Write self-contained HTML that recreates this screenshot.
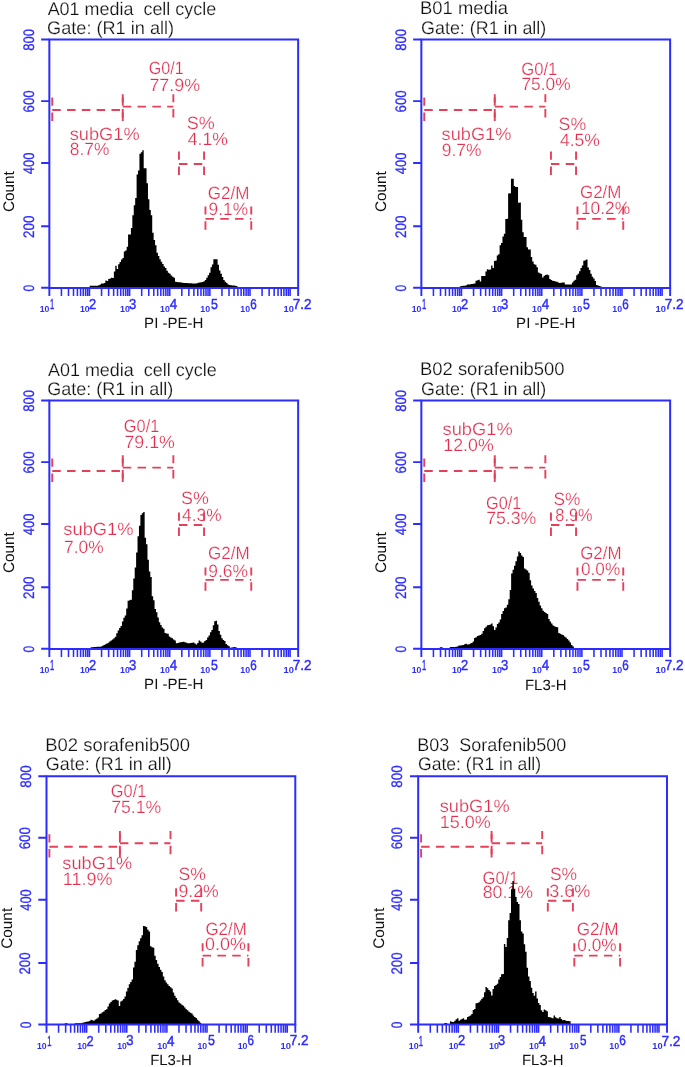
<!DOCTYPE html>
<html><head><meta charset="utf-8"><style>
html,body{margin:0;padding:0;background:#fff;width:685px;height:1067px;overflow:hidden}
svg{display:block;text-rendering:geometricPrecision;will-change:transform}
text{font-family:"Liberation Sans",sans-serif;white-space:pre}
.tt{fill:#111;stroke:#fff;stroke-width:0.2px}
.rd{fill:#e2304f;stroke:#fff;stroke-width:0.25px}
.yl{fill:#2c2cff;text-anchor:middle;dominant-baseline:central;stroke:#2c2cff;stroke-width:0.3px}
.cnt{fill:#111;text-anchor:middle}
.xs{font-weight:bold;fill:#2c2cff}
.xb{fill:#2c2cff;stroke:#2c2cff;stroke-width:0.45px}
.xt{fill:#111}
</style></head><body>
<svg width="685" height="1067" viewBox="0 0 685 1067">
<text id="t0_1" x="47.65" y="14.95" class="tt" style="font-size:18.2px" textLength="168.58" lengthAdjust="spacingAndGlyphs">A01 media  cell cycle</text>
<text id="t0_2" x="47.11" y="34.32" class="tt" style="font-size:18.2px" textLength="126.96" lengthAdjust="spacingAndGlyphs">Gate: (R1 in all)</text>
<text id="r0_0" x="148.8" y="74.29" class="rd" style="font-size:17.8px" textLength="34.87" lengthAdjust="spacingAndGlyphs">G0/1</text>
<text id="r0_1" x="149.4" y="91.23" class="rd" style="font-size:17.8px" textLength="50.8" lengthAdjust="spacingAndGlyphs">77.9%</text>
<text id="r0_2" x="69.68" y="139.72" class="rd" style="font-size:17.8px" textLength="69.94" lengthAdjust="spacingAndGlyphs">subG1%</text>
<text id="r0_3" x="69.82" y="154.98" class="rd" style="font-size:17.8px" textLength="39.51" lengthAdjust="spacingAndGlyphs">8.7%</text>
<text id="r0_4" x="186.71" y="128.86" class="rd" style="font-size:17.8px" textLength="28.06" lengthAdjust="spacingAndGlyphs">S%</text>
<text id="r0_5" x="187.8" y="145.36" class="rd" style="font-size:17.8px" textLength="40.05" lengthAdjust="spacingAndGlyphs">4.1%</text>
<text id="r0_6" x="207.82" y="198.93" class="rd" style="font-size:17.8px" textLength="41.66" lengthAdjust="spacingAndGlyphs">G2/M</text>
<text id="r0_7" x="208.61" y="215.1" class="rd" style="font-size:17.8px" textLength="39.4" lengthAdjust="spacingAndGlyphs">9.1%</text>
<text id="y0_0" transform="translate(29.43 288.25) rotate(-90)" class="yl" style="font-size:15.2px" textLength="6.73" lengthAdjust="spacingAndGlyphs">0</text>
<text id="y0_1" transform="translate(29.32 226.81) rotate(-90)" class="yl" style="font-size:15.2px" textLength="22.3" lengthAdjust="spacingAndGlyphs">200</text>
<text id="y0_2" transform="translate(29.31 163.43) rotate(-90)" class="yl" style="font-size:15.2px" textLength="21.65" lengthAdjust="spacingAndGlyphs">400</text>
<text id="y0_3" transform="translate(29.24 101.38) rotate(-90)" class="yl" style="font-size:15.2px" textLength="22.1" lengthAdjust="spacingAndGlyphs">600</text>
<text id="y0_4" transform="translate(29.26 39.79) rotate(-90)" class="yl" style="font-size:15.2px" textLength="21.77" lengthAdjust="spacingAndGlyphs">800</text>
<text id="c0" transform="translate(14.43 191.65) rotate(-90)" class="cnt" style="font-size:15.4px" textLength="40.92" lengthAdjust="spacingAndGlyphs">Count</text>
<text id="xs0_1" x="39.78" y="312.36" class="xs" style="font-size:8.7px" textLength="9.63" lengthAdjust="spacingAndGlyphs">10</text>
<text id="xb0_1" x="49.93" y="308.85" class="xb" style="font-size:14.5px" textLength="4.25" lengthAdjust="spacingAndGlyphs">1</text>
<text id="xs0_2" x="79.95" y="312.32" class="xs" style="font-size:8.7px" textLength="9.63" lengthAdjust="spacingAndGlyphs">10</text>
<text id="xb0_2" x="89.11" y="308.78" class="xb" style="font-size:14.5px" textLength="7.19" lengthAdjust="spacingAndGlyphs">2</text>
<text id="xs0_3" x="120.06" y="312.4" class="xs" style="font-size:8.7px" textLength="9.82" lengthAdjust="spacingAndGlyphs">10</text>
<text id="xb0_3" x="128.98" y="308.99" class="xb" style="font-size:14.5px" textLength="7.27" lengthAdjust="spacingAndGlyphs">3</text>
<text id="xs0_4" x="160.08" y="312.37" class="xs" style="font-size:8.7px" textLength="9.73" lengthAdjust="spacingAndGlyphs">10</text>
<text id="xb0_4" x="169.76" y="308.58" class="xb" style="font-size:14.5px" textLength="7.48" lengthAdjust="spacingAndGlyphs">4</text>
<text id="xs0_5" x="200.33" y="312.27" class="xs" style="font-size:8.7px" textLength="9.86" lengthAdjust="spacingAndGlyphs">10</text>
<text id="xb0_5" x="210.92" y="309.08" class="xb" style="font-size:14.5px" textLength="6.84" lengthAdjust="spacingAndGlyphs">5</text>
<text id="xs0_6" x="240.27" y="312.07" class="xs" style="font-size:8.7px" textLength="9.76" lengthAdjust="spacingAndGlyphs">10</text>
<text id="xb0_6" x="250.24" y="308.99" class="xb" style="font-size:14.5px" textLength="6.48" lengthAdjust="spacingAndGlyphs">6</text>
<text id="xs0_7" x="283.56" y="312.32" class="xs" style="font-size:8.7px" textLength="10.37" lengthAdjust="spacingAndGlyphs">10</text>
<text id="xb0_7" x="292.64" y="309.07" class="xb" style="font-size:14.5px" textLength="18.83" lengthAdjust="spacingAndGlyphs">7.2</text>
<text id="xt0" x="173.81" y="328.47" class="xt" style="font-size:14.85px" text-anchor="middle" textLength="59.41" lengthAdjust="spacingAndGlyphs">PI -PE-H</text>
<text id="t1_1" x="420.09" y="14.46" class="tt" style="font-size:18.2px" textLength="87.97" lengthAdjust="spacingAndGlyphs">B01 media</text>
<text id="t1_2" x="421.08" y="34.3" class="tt" style="font-size:18.2px" textLength="125.19" lengthAdjust="spacingAndGlyphs">Gate: (R1 in all)</text>
<text id="r1_0" x="521.22" y="74.64" class="rd" style="font-size:17.8px" textLength="36.18" lengthAdjust="spacingAndGlyphs">G0/1</text>
<text id="r1_1" x="521.46" y="90.08" class="rd" style="font-size:17.8px" textLength="49.25" lengthAdjust="spacingAndGlyphs">75.0%</text>
<text id="r1_2" x="441.63" y="140.14" class="rd" style="font-size:17.8px" textLength="69.76" lengthAdjust="spacingAndGlyphs">subG1%</text>
<text id="r1_3" x="441.78" y="156.02" class="rd" style="font-size:17.8px" textLength="39.72" lengthAdjust="spacingAndGlyphs">9.7%</text>
<text id="r1_4" x="558.6" y="129.76" class="rd" style="font-size:17.8px" textLength="27.55" lengthAdjust="spacingAndGlyphs">S%</text>
<text id="r1_5" x="559.97" y="145.95" class="rd" style="font-size:17.8px" textLength="39.98" lengthAdjust="spacingAndGlyphs">4.5%</text>
<text id="r1_6" x="580" y="197.8" class="rd" style="font-size:17.8px" textLength="41.44" lengthAdjust="spacingAndGlyphs">G2/M</text>
<text id="r1_7" x="580.89" y="214.43" class="rd" style="font-size:17.8px" textLength="49.3" lengthAdjust="spacingAndGlyphs">10.2%</text>
<text id="y1_0" transform="translate(401.43 288.25) rotate(-90)" class="yl" style="font-size:15.2px" textLength="6.73" lengthAdjust="spacingAndGlyphs">0</text>
<text id="y1_1" transform="translate(401.32 226.81) rotate(-90)" class="yl" style="font-size:15.2px" textLength="22.3" lengthAdjust="spacingAndGlyphs">200</text>
<text id="y1_2" transform="translate(401.31 163.43) rotate(-90)" class="yl" style="font-size:15.2px" textLength="21.65" lengthAdjust="spacingAndGlyphs">400</text>
<text id="y1_3" transform="translate(401.24 101.38) rotate(-90)" class="yl" style="font-size:15.2px" textLength="22.1" lengthAdjust="spacingAndGlyphs">600</text>
<text id="y1_4" transform="translate(401.26 39.79) rotate(-90)" class="yl" style="font-size:15.2px" textLength="21.77" lengthAdjust="spacingAndGlyphs">800</text>
<text id="c1" transform="translate(386.43 191.65) rotate(-90)" class="cnt" style="font-size:15.4px" textLength="40.92" lengthAdjust="spacingAndGlyphs">Count</text>
<text id="xs1_1" x="411.78" y="312.36" class="xs" style="font-size:8.7px" textLength="9.63" lengthAdjust="spacingAndGlyphs">10</text>
<text id="xb1_1" x="421.93" y="308.85" class="xb" style="font-size:14.5px" textLength="4.25" lengthAdjust="spacingAndGlyphs">1</text>
<text id="xs1_2" x="451.95" y="312.32" class="xs" style="font-size:8.7px" textLength="9.63" lengthAdjust="spacingAndGlyphs">10</text>
<text id="xb1_2" x="461.11" y="308.78" class="xb" style="font-size:14.5px" textLength="7.19" lengthAdjust="spacingAndGlyphs">2</text>
<text id="xs1_3" x="492.06" y="312.4" class="xs" style="font-size:8.7px" textLength="9.82" lengthAdjust="spacingAndGlyphs">10</text>
<text id="xb1_3" x="500.98" y="308.99" class="xb" style="font-size:14.5px" textLength="7.27" lengthAdjust="spacingAndGlyphs">3</text>
<text id="xs1_4" x="532.08" y="312.37" class="xs" style="font-size:8.7px" textLength="9.73" lengthAdjust="spacingAndGlyphs">10</text>
<text id="xb1_4" x="541.76" y="308.58" class="xb" style="font-size:14.5px" textLength="7.48" lengthAdjust="spacingAndGlyphs">4</text>
<text id="xs1_5" x="572.33" y="312.27" class="xs" style="font-size:8.7px" textLength="9.86" lengthAdjust="spacingAndGlyphs">10</text>
<text id="xb1_5" x="582.92" y="309.08" class="xb" style="font-size:14.5px" textLength="6.84" lengthAdjust="spacingAndGlyphs">5</text>
<text id="xs1_6" x="612.27" y="312.07" class="xs" style="font-size:8.7px" textLength="9.76" lengthAdjust="spacingAndGlyphs">10</text>
<text id="xb1_6" x="622.24" y="308.99" class="xb" style="font-size:14.5px" textLength="6.48" lengthAdjust="spacingAndGlyphs">6</text>
<text id="xs1_7" x="655.56" y="312.32" class="xs" style="font-size:8.7px" textLength="10.37" lengthAdjust="spacingAndGlyphs">10</text>
<text id="xb1_7" x="664.64" y="309.07" class="xb" style="font-size:14.5px" textLength="18.83" lengthAdjust="spacingAndGlyphs">7.2</text>
<text id="xt1" x="545.81" y="328.47" class="xt" style="font-size:14.85px" text-anchor="middle" textLength="59.41" lengthAdjust="spacingAndGlyphs">PI -PE-H</text>
<text id="t2_1" x="47.95" y="375.83" class="tt" style="font-size:18.2px" textLength="168.73" lengthAdjust="spacingAndGlyphs">A01 media  cell cycle</text>
<text id="t2_2" x="47.32" y="395.08" class="tt" style="font-size:18.2px" textLength="126.03" lengthAdjust="spacingAndGlyphs">Gate: (R1 in all)</text>
<text id="r2_0" x="123.87" y="431.79" class="rd" style="font-size:17.8px" textLength="35.4" lengthAdjust="spacingAndGlyphs">G0/1</text>
<text id="r2_1" x="124.48" y="447.89" class="rd" style="font-size:17.8px" textLength="50.48" lengthAdjust="spacingAndGlyphs">79.1%</text>
<text id="r2_2" x="63.34" y="535.35" class="rd" style="font-size:17.8px" textLength="70.19" lengthAdjust="spacingAndGlyphs">subG1%</text>
<text id="r2_3" x="64.02" y="552.65" class="rd" style="font-size:17.8px" textLength="39.57" lengthAdjust="spacingAndGlyphs">7.0%</text>
<text id="r2_4" x="181.06" y="503.82" class="rd" style="font-size:17.8px" textLength="27.78" lengthAdjust="spacingAndGlyphs">S%</text>
<text id="r2_5" x="182.09" y="520.85" class="rd" style="font-size:17.8px" textLength="39.49" lengthAdjust="spacingAndGlyphs">4.3%</text>
<text id="r2_6" x="207.98" y="559.02" class="rd" style="font-size:17.8px" textLength="41.64" lengthAdjust="spacingAndGlyphs">G2/M</text>
<text id="r2_7" x="208.32" y="576.57" class="rd" style="font-size:17.8px" textLength="39.75" lengthAdjust="spacingAndGlyphs">9.6%</text>
<text id="y2_0" transform="translate(29.43 649.25) rotate(-90)" class="yl" style="font-size:15.2px" textLength="6.73" lengthAdjust="spacingAndGlyphs">0</text>
<text id="y2_1" transform="translate(29.32 587.81) rotate(-90)" class="yl" style="font-size:15.2px" textLength="22.3" lengthAdjust="spacingAndGlyphs">200</text>
<text id="y2_2" transform="translate(29.31 524.43) rotate(-90)" class="yl" style="font-size:15.2px" textLength="21.65" lengthAdjust="spacingAndGlyphs">400</text>
<text id="y2_3" transform="translate(29.24 462.38) rotate(-90)" class="yl" style="font-size:15.2px" textLength="22.1" lengthAdjust="spacingAndGlyphs">600</text>
<text id="y2_4" transform="translate(29.26 400.79) rotate(-90)" class="yl" style="font-size:15.2px" textLength="21.77" lengthAdjust="spacingAndGlyphs">800</text>
<text id="c2" transform="translate(14.43 552.65) rotate(-90)" class="cnt" style="font-size:15.4px" textLength="40.92" lengthAdjust="spacingAndGlyphs">Count</text>
<text id="xs2_1" x="39.78" y="673.36" class="xs" style="font-size:8.7px" textLength="9.63" lengthAdjust="spacingAndGlyphs">10</text>
<text id="xb2_1" x="49.93" y="669.85" class="xb" style="font-size:14.5px" textLength="4.25" lengthAdjust="spacingAndGlyphs">1</text>
<text id="xs2_2" x="79.95" y="673.32" class="xs" style="font-size:8.7px" textLength="9.63" lengthAdjust="spacingAndGlyphs">10</text>
<text id="xb2_2" x="89.11" y="669.78" class="xb" style="font-size:14.5px" textLength="7.19" lengthAdjust="spacingAndGlyphs">2</text>
<text id="xs2_3" x="120.06" y="673.4" class="xs" style="font-size:8.7px" textLength="9.82" lengthAdjust="spacingAndGlyphs">10</text>
<text id="xb2_3" x="128.98" y="669.99" class="xb" style="font-size:14.5px" textLength="7.27" lengthAdjust="spacingAndGlyphs">3</text>
<text id="xs2_4" x="160.08" y="673.37" class="xs" style="font-size:8.7px" textLength="9.73" lengthAdjust="spacingAndGlyphs">10</text>
<text id="xb2_4" x="169.76" y="669.58" class="xb" style="font-size:14.5px" textLength="7.48" lengthAdjust="spacingAndGlyphs">4</text>
<text id="xs2_5" x="200.33" y="673.27" class="xs" style="font-size:8.7px" textLength="9.86" lengthAdjust="spacingAndGlyphs">10</text>
<text id="xb2_5" x="210.92" y="670.08" class="xb" style="font-size:14.5px" textLength="6.84" lengthAdjust="spacingAndGlyphs">5</text>
<text id="xs2_6" x="240.27" y="673.07" class="xs" style="font-size:8.7px" textLength="9.76" lengthAdjust="spacingAndGlyphs">10</text>
<text id="xb2_6" x="250.24" y="669.99" class="xb" style="font-size:14.5px" textLength="6.48" lengthAdjust="spacingAndGlyphs">6</text>
<text id="xs2_7" x="283.56" y="673.32" class="xs" style="font-size:8.7px" textLength="10.37" lengthAdjust="spacingAndGlyphs">10</text>
<text id="xb2_7" x="292.64" y="670.07" class="xb" style="font-size:14.5px" textLength="18.83" lengthAdjust="spacingAndGlyphs">7.2</text>
<text id="xt2" x="173.81" y="689.47" class="xt" style="font-size:14.85px" text-anchor="middle" textLength="59.41" lengthAdjust="spacingAndGlyphs">PI -PE-H</text>
<text id="t3_1" x="419.95" y="375.4" class="tt" style="font-size:18.2px" textLength="144.65" lengthAdjust="spacingAndGlyphs">B02 sorafenib500</text>
<text id="t3_2" x="421.08" y="395.3" class="tt" style="font-size:18.2px" textLength="125.19" lengthAdjust="spacingAndGlyphs">Gate: (R1 in all)</text>
<text id="r3_0" x="442.58" y="434.7" class="rd" style="font-size:17.8px" textLength="70.06" lengthAdjust="spacingAndGlyphs">subG1%</text>
<text id="r3_1" x="443.3" y="451.26" class="rd" style="font-size:17.8px" textLength="50.38" lengthAdjust="spacingAndGlyphs">12.0%</text>
<text id="r3_2" x="486.04" y="508.5" class="rd" style="font-size:17.8px" textLength="35.28" lengthAdjust="spacingAndGlyphs">G0/1</text>
<text id="r3_3" x="486.14" y="524.11" class="rd" style="font-size:17.8px" textLength="50.24" lengthAdjust="spacingAndGlyphs">75.3%</text>
<text id="r3_4" x="553.44" y="505.03" class="rd" style="font-size:17.8px" textLength="26.92" lengthAdjust="spacingAndGlyphs">S%</text>
<text id="r3_5" x="555.31" y="520.59" class="rd" style="font-size:17.8px" textLength="37.27" lengthAdjust="spacingAndGlyphs">8.9%</text>
<text id="r3_6" x="580.19" y="559.49" class="rd" style="font-size:17.8px" textLength="41.31" lengthAdjust="spacingAndGlyphs">G2/M</text>
<text id="r3_7" x="580.97" y="575.32" class="rd" style="font-size:17.8px" textLength="39.24" lengthAdjust="spacingAndGlyphs">0.0%</text>
<text id="y3_0" transform="translate(401.43 649.25) rotate(-90)" class="yl" style="font-size:15.2px" textLength="6.73" lengthAdjust="spacingAndGlyphs">0</text>
<text id="y3_1" transform="translate(401.32 587.81) rotate(-90)" class="yl" style="font-size:15.2px" textLength="22.3" lengthAdjust="spacingAndGlyphs">200</text>
<text id="y3_2" transform="translate(401.31 524.43) rotate(-90)" class="yl" style="font-size:15.2px" textLength="21.65" lengthAdjust="spacingAndGlyphs">400</text>
<text id="y3_3" transform="translate(401.24 462.38) rotate(-90)" class="yl" style="font-size:15.2px" textLength="22.1" lengthAdjust="spacingAndGlyphs">600</text>
<text id="y3_4" transform="translate(401.26 400.79) rotate(-90)" class="yl" style="font-size:15.2px" textLength="21.77" lengthAdjust="spacingAndGlyphs">800</text>
<text id="c3" transform="translate(386.43 552.65) rotate(-90)" class="cnt" style="font-size:15.4px" textLength="40.92" lengthAdjust="spacingAndGlyphs">Count</text>
<text id="xs3_1" x="411.78" y="673.36" class="xs" style="font-size:8.7px" textLength="9.63" lengthAdjust="spacingAndGlyphs">10</text>
<text id="xb3_1" x="421.93" y="669.85" class="xb" style="font-size:14.5px" textLength="4.25" lengthAdjust="spacingAndGlyphs">1</text>
<text id="xs3_2" x="451.95" y="673.32" class="xs" style="font-size:8.7px" textLength="9.63" lengthAdjust="spacingAndGlyphs">10</text>
<text id="xb3_2" x="461.11" y="669.78" class="xb" style="font-size:14.5px" textLength="7.19" lengthAdjust="spacingAndGlyphs">2</text>
<text id="xs3_3" x="492.06" y="673.4" class="xs" style="font-size:8.7px" textLength="9.82" lengthAdjust="spacingAndGlyphs">10</text>
<text id="xb3_3" x="500.98" y="669.99" class="xb" style="font-size:14.5px" textLength="7.27" lengthAdjust="spacingAndGlyphs">3</text>
<text id="xs3_4" x="532.08" y="673.37" class="xs" style="font-size:8.7px" textLength="9.73" lengthAdjust="spacingAndGlyphs">10</text>
<text id="xb3_4" x="541.76" y="669.58" class="xb" style="font-size:14.5px" textLength="7.48" lengthAdjust="spacingAndGlyphs">4</text>
<text id="xs3_5" x="572.33" y="673.27" class="xs" style="font-size:8.7px" textLength="9.86" lengthAdjust="spacingAndGlyphs">10</text>
<text id="xb3_5" x="582.92" y="670.08" class="xb" style="font-size:14.5px" textLength="6.84" lengthAdjust="spacingAndGlyphs">5</text>
<text id="xs3_6" x="612.27" y="673.07" class="xs" style="font-size:8.7px" textLength="9.76" lengthAdjust="spacingAndGlyphs">10</text>
<text id="xb3_6" x="622.24" y="669.99" class="xb" style="font-size:14.5px" textLength="6.48" lengthAdjust="spacingAndGlyphs">6</text>
<text id="xs3_7" x="655.56" y="673.32" class="xs" style="font-size:8.7px" textLength="10.37" lengthAdjust="spacingAndGlyphs">10</text>
<text id="xb3_7" x="664.64" y="670.07" class="xb" style="font-size:14.5px" textLength="18.83" lengthAdjust="spacingAndGlyphs">7.2</text>
<text id="xt3" x="545.81" y="689.64" class="xt" style="font-size:14.85px" text-anchor="middle" textLength="41.7" lengthAdjust="spacingAndGlyphs">FL3-H</text>
<text id="t4_1" x="45.15" y="751.45" class="tt" style="font-size:18.2px" textLength="144.89" lengthAdjust="spacingAndGlyphs">B02 sorafenib500</text>
<text id="t4_2" x="45.87" y="770.24" class="tt" style="font-size:18.2px" textLength="125.92" lengthAdjust="spacingAndGlyphs">Gate: (R1 in all)</text>
<text id="r4_0" x="110.87" y="797.16" class="rd" style="font-size:17.8px" textLength="35.4" lengthAdjust="spacingAndGlyphs">G0/1</text>
<text id="r4_1" x="111.18" y="812.62" class="rd" style="font-size:17.8px" textLength="50.02" lengthAdjust="spacingAndGlyphs">75.1%</text>
<text id="r4_2" x="62.37" y="869.45" class="rd" style="font-size:17.8px" textLength="69.74" lengthAdjust="spacingAndGlyphs">subG1%</text>
<text id="r4_3" x="62.81" y="885.33" class="rd" style="font-size:17.8px" textLength="49.83" lengthAdjust="spacingAndGlyphs">11.9%</text>
<text id="r4_4" x="178.53" y="880.14" class="rd" style="font-size:17.8px" textLength="27.46" lengthAdjust="spacingAndGlyphs">S%</text>
<text id="r4_5" x="178.54" y="897.11" class="rd" style="font-size:17.8px" textLength="40.3" lengthAdjust="spacingAndGlyphs">9.2%</text>
<text id="r4_6" x="205.56" y="935.09" class="rd" style="font-size:17.8px" textLength="41.1" lengthAdjust="spacingAndGlyphs">G2/M</text>
<text id="r4_7" x="205.09" y="950.39" class="rd" style="font-size:17.8px" textLength="40.87" lengthAdjust="spacingAndGlyphs">0.0%</text>
<text id="y4_0" transform="translate(26.04 1024.96) rotate(-90)" class="yl" style="font-size:15.2px" textLength="6.66" lengthAdjust="spacingAndGlyphs">0</text>
<text id="y4_1" transform="translate(25.99 963.56) rotate(-90)" class="yl" style="font-size:15.2px" textLength="22.06" lengthAdjust="spacingAndGlyphs">200</text>
<text id="y4_2" transform="translate(26.03 900.01) rotate(-90)" class="yl" style="font-size:15.2px" textLength="21.43" lengthAdjust="spacingAndGlyphs">400</text>
<text id="y4_3" transform="translate(25.83 838.24) rotate(-90)" class="yl" style="font-size:15.2px" textLength="22.12" lengthAdjust="spacingAndGlyphs">600</text>
<text id="y4_4" transform="translate(26.79 776.54) rotate(-90)" class="yl" style="font-size:15.2px" textLength="22.22" lengthAdjust="spacingAndGlyphs">800</text>
<text id="c4" transform="translate(12.4 928.32) rotate(-90)" class="cnt" style="font-size:15.4px" textLength="40.92" lengthAdjust="spacingAndGlyphs">Count</text>
<text id="xs4_1" x="36.95" y="1049.37" class="xs" style="font-size:8.7px" textLength="9.68" lengthAdjust="spacingAndGlyphs">10</text>
<text id="xb4_1" x="47.23" y="1045.62" class="xb" style="font-size:14.5px" textLength="4.25" lengthAdjust="spacingAndGlyphs">1</text>
<text id="xs4_2" x="77.16" y="1049.36" class="xs" style="font-size:8.7px" textLength="9.66" lengthAdjust="spacingAndGlyphs">10</text>
<text id="xb4_2" x="86.5" y="1046.13" class="xb" style="font-size:14.5px" textLength="7.13" lengthAdjust="spacingAndGlyphs">2</text>
<text id="xs4_3" x="117.29" y="1049.38" class="xs" style="font-size:8.7px" textLength="9.61" lengthAdjust="spacingAndGlyphs">10</text>
<text id="xb4_3" x="126.24" y="1045.32" class="xb" style="font-size:14.5px" textLength="7.28" lengthAdjust="spacingAndGlyphs">3</text>
<text id="xs4_4" x="157.3" y="1049.17" class="xs" style="font-size:8.7px" textLength="9.99" lengthAdjust="spacingAndGlyphs">10</text>
<text id="xb4_4" x="167.01" y="1045.78" class="xb" style="font-size:14.5px" textLength="7.48" lengthAdjust="spacingAndGlyphs">4</text>
<text id="xs4_5" x="197.52" y="1049.18" class="xs" style="font-size:8.7px" textLength="9.65" lengthAdjust="spacingAndGlyphs">10</text>
<text id="xb4_5" x="207.98" y="1045.45" class="xb" style="font-size:14.5px" textLength="6.91" lengthAdjust="spacingAndGlyphs">5</text>
<text id="xs4_6" x="237.65" y="1049.17" class="xs" style="font-size:8.7px" textLength="9.74" lengthAdjust="spacingAndGlyphs">10</text>
<text id="xb4_6" x="247.54" y="1045.39" class="xb" style="font-size:14.5px" textLength="6.48" lengthAdjust="spacingAndGlyphs">6</text>
<text id="xs4_7" x="280.46" y="1049.42" class="xs" style="font-size:8.7px" textLength="10.52" lengthAdjust="spacingAndGlyphs">10</text>
<text id="xb4_7" x="289.79" y="1045.41" class="xb" style="font-size:14.5px" textLength="18.92" lengthAdjust="spacingAndGlyphs">7.2</text>
<text id="xt4" x="170.95" y="1064.74" class="xt" style="font-size:14.85px" text-anchor="middle" textLength="41.52" lengthAdjust="spacingAndGlyphs">FL3-H</text>
<text id="t5_1" x="417.32" y="751.22" class="tt" style="font-size:18.2px" textLength="148.99" lengthAdjust="spacingAndGlyphs">B03  Sorafenib500</text>
<text id="t5_2" x="417.97" y="770.15" class="tt" style="font-size:18.2px" textLength="123.08" lengthAdjust="spacingAndGlyphs">Gate: (R1 in all)</text>
<text id="r5_0" x="439.69" y="811.8" class="rd" style="font-size:17.8px" textLength="69.95" lengthAdjust="spacingAndGlyphs">subG1%</text>
<text id="r5_1" x="439.68" y="827.81" class="rd" style="font-size:17.8px" textLength="51.13" lengthAdjust="spacingAndGlyphs">15.0%</text>
<text id="r5_2" x="482.5" y="883.5" class="rd" style="font-size:17.8px" textLength="35.91" lengthAdjust="spacingAndGlyphs">G0/1</text>
<text id="r5_3" x="482.65" y="897.66" class="rd" style="font-size:17.8px" textLength="50.34" lengthAdjust="spacingAndGlyphs">80.1%</text>
<text id="r5_4" x="549.99" y="880.11" class="rd" style="font-size:17.8px" textLength="27.13" lengthAdjust="spacingAndGlyphs">S%</text>
<text id="r5_5" x="549.15" y="897.24" class="rd" style="font-size:17.8px" textLength="41.17" lengthAdjust="spacingAndGlyphs">3.6%</text>
<text id="r5_6" x="576.64" y="934.97" class="rd" style="font-size:17.8px" textLength="41.86" lengthAdjust="spacingAndGlyphs">G2/M</text>
<text id="r5_7" x="577.3" y="951.28" class="rd" style="font-size:17.8px" textLength="39.35" lengthAdjust="spacingAndGlyphs">0.0%</text>
<text id="y5_0" transform="translate(397.84 1024.96) rotate(-90)" class="yl" style="font-size:15.2px" textLength="6.66" lengthAdjust="spacingAndGlyphs">0</text>
<text id="y5_1" transform="translate(397.79 963.56) rotate(-90)" class="yl" style="font-size:15.2px" textLength="22.06" lengthAdjust="spacingAndGlyphs">200</text>
<text id="y5_2" transform="translate(397.83 900.01) rotate(-90)" class="yl" style="font-size:15.2px" textLength="21.43" lengthAdjust="spacingAndGlyphs">400</text>
<text id="y5_3" transform="translate(397.63 838.24) rotate(-90)" class="yl" style="font-size:15.2px" textLength="22.12" lengthAdjust="spacingAndGlyphs">600</text>
<text id="y5_4" transform="translate(397.59 776.54) rotate(-90)" class="yl" style="font-size:15.2px" textLength="22.22" lengthAdjust="spacingAndGlyphs">800</text>
<text id="c5" transform="translate(383.5 928.32) rotate(-90)" class="cnt" style="font-size:15.4px" textLength="40.92" lengthAdjust="spacingAndGlyphs">Count</text>
<text id="xs5_1" x="408.73" y="1049.32" class="xs" style="font-size:8.7px" textLength="9.9" lengthAdjust="spacingAndGlyphs">10</text>
<text id="xb5_1" x="418.69" y="1046.18" class="xb" style="font-size:14.5px" textLength="4.24" lengthAdjust="spacingAndGlyphs">1</text>
<text id="xs5_2" x="448.78" y="1049.36" class="xs" style="font-size:8.7px" textLength="9.63" lengthAdjust="spacingAndGlyphs">10</text>
<text id="xb5_2" x="457.97" y="1045.35" class="xb" style="font-size:14.5px" textLength="7.2" lengthAdjust="spacingAndGlyphs">2</text>
<text id="xs5_3" x="488.91" y="1049.39" class="xs" style="font-size:8.7px" textLength="9.96" lengthAdjust="spacingAndGlyphs">10</text>
<text id="xb5_3" x="497.89" y="1045.43" class="xb" style="font-size:14.5px" textLength="7.12" lengthAdjust="spacingAndGlyphs">3</text>
<text id="xs5_4" x="529.1" y="1049.39" class="xs" style="font-size:8.7px" textLength="9.68" lengthAdjust="spacingAndGlyphs">10</text>
<text id="xb5_4" x="538.48" y="1045.89" class="xb" style="font-size:14.5px" textLength="7.57" lengthAdjust="spacingAndGlyphs">4</text>
<text id="xs5_5" x="569.13" y="1049.33" class="xs" style="font-size:8.7px" textLength="9.67" lengthAdjust="spacingAndGlyphs">10</text>
<text id="xb5_5" x="579.91" y="1045.45" class="xb" style="font-size:14.5px" textLength="6.54" lengthAdjust="spacingAndGlyphs">5</text>
<text id="xs5_6" x="609.36" y="1049.27" class="xs" style="font-size:8.7px" textLength="9.92" lengthAdjust="spacingAndGlyphs">10</text>
<text id="xb5_6" x="619.24" y="1045.32" class="xb" style="font-size:14.5px" textLength="6.59" lengthAdjust="spacingAndGlyphs">6</text>
<text id="xs5_7" x="652.37" y="1049.24" class="xs" style="font-size:8.7px" textLength="10.29" lengthAdjust="spacingAndGlyphs">10</text>
<text id="xb5_7" x="661.42" y="1045.5" class="xb" style="font-size:14.5px" textLength="19.07" lengthAdjust="spacingAndGlyphs">7.2</text>
<text id="xt5" x="542.74" y="1064.64" class="xt" style="font-size:14.85px" text-anchor="middle" textLength="41.46" lengthAdjust="spacingAndGlyphs">FL3-H</text>
<path class="g" d="M89.7 288.4L89.7 285.8L91.12 285.8L91.12 285.8L92.54 285.8L92.54 285.8L93.96 285.8L93.96 285.8L95.38 285.8L95.38 285.8L96.81 285.8L96.81 285.8L98.23 285.8L98.23 285.3L99.65 285.3L99.65 284.4L101.07 284.4L101.07 283.6L102.49 283.6L102.49 283.53L103.91 283.53L103.91 282.88L105.33 282.88L105.33 280.4L106.75 280.4L106.75 280.99L108.17 280.99L108.18 278.9L109.6 278.9L109.6 278.42L111.02 278.42L111.02 277.8L112.44 277.8L112.44 278.07L113.86 278.07L113.86 271.6L115.28 271.6L115.28 265.8L116.7 265.8L116.7 268.9L118.12 268.9L118.12 264.3L119.54 264.3L119.54 261.93L120.97 261.93L120.97 259.6L122.39 259.6L122.39 258.04L123.81 258.04L123.81 251.51L125.23 251.51L125.23 250.4L126.65 250.4L126.65 246.8L128.07 246.8L128.07 234.4L129.49 234.4L129.49 234.4L130.91 234.4L130.91 227.88L132.33 227.88L132.33 215.31L133.76 215.31L133.76 205.37L135.18 205.37L135.18 197.97L136.6 197.97L136.6 174.38L138.02 174.38L138.02 170.4L139.44 170.4L139.44 153.75L140.86 153.75L140.86 152.37L142.28 152.37L142.28 150.3L143.7 150.3L143.7 168.2L145.12 168.2L145.12 168.2L146.55 168.2L146.55 183.3L147.97 183.3L147.97 199.3L149.39 199.3L149.39 210L150.81 210L150.81 215.3L152.23 215.3L152.23 232.7L153.65 232.7L153.65 240L155.07 240L155.07 245.35L156.49 245.35L156.49 252.8L157.92 252.8L157.92 256.01L159.34 256.01L159.34 259.21L160.76 259.21L160.76 261.74L162.18 261.74L162.18 264.06L163.6 264.06L163.6 266.38L165.02 266.38L165.02 268L166.44 268L166.44 270.64L167.86 270.64L167.86 272.67L169.28 272.67L169.28 273.7L170.71 273.7L170.71 275.5L172.13 275.5L172.13 276.71L173.55 276.71L173.55 277.7L174.97 277.7L174.97 281.75L176.39 281.75L176.39 281.98L177.81 281.98L177.81 282.16L179.23 282.16L179.23 282.35L180.65 282.35L180.65 282.53L182.08 282.53L182.07 282.71L183.5 282.71L183.5 282.9L184.92 282.9L184.92 283L186.34 283L186.34 283.1L187.76 283.1L187.76 283.17L189.18 283.17L189.18 283.24L190.6 283.24L190.6 283.32L192.02 283.32L192.02 283.39L193.44 283.39L193.44 283.46L194.87 283.46L194.87 283.39L196.29 283.39L196.29 283.13L197.71 283.13L197.71 282.86L199.13 282.86L199.13 282.59L200.55 282.59L200.55 282.33L201.97 282.33L201.97 282L203.39 282L203.39 281.13L204.81 281.13L204.81 279.9L206.23 279.9L206.23 277.63L207.66 277.63L207.66 275.35L209.08 275.35L209.08 272.67L210.5 272.67L210.5 267.3L211.92 267.3L211.92 264.53L213.34 264.53L213.34 259.3L214.76 259.3L214.76 259.3L216.18 259.3L216.18 259.3L217.6 259.3L217.6 264.79L219.03 264.79L219.03 270.55L220.45 270.55L220.45 273.73L221.87 273.73L221.87 277.02L223.29 277.02L223.29 280.1L224.71 280.1L224.71 281.65L226.13 281.65L226.13 283.1L227.55 283.1L227.55 284.55L228.97 284.55L228.97 285.11L230.39 285.11L230.39 285.27L231.82 285.27L231.82 285.43L233.24 285.43L233.24 285.6L234.66 285.6L234.66 285.76L236.08 285.76L236.08 285.92L237.5 285.92L237.5 288.4Z" fill="#000"/>
<path class="g" d="M49.35 39.5H298.15V287.9H49.35Z" fill="none" stroke="#2c2cff" stroke-width="2"/>
<path class="g" d="M41.15 287.8H49.35M41.15 226.3H49.35M41.15 163H49.35M41.15 101.1H49.35M41.15 39.5H49.35M49.35 287.9V296.1M298.15 287.9V296.1" stroke="#2c2cff" stroke-width="1.9" fill="none"/>
<path class="g" d="M61.43 287.9V296.1M68.5 287.9V296.1M73.51 287.9V296.1M77.4 287.9V296.1M80.58 287.9V296.1M83.26 287.9V296.1M85.59 287.9V296.1M87.64 287.9V296.1M89.48 287.9V296.1M101.56 287.9V296.1M108.63 287.9V296.1M113.64 287.9V296.1M117.53 287.9V296.1M120.71 287.9V296.1M123.39 287.9V296.1M125.72 287.9V296.1M127.77 287.9V296.1M129.61 287.9V296.1M141.69 287.9V296.1M148.75 287.9V296.1M153.77 287.9V296.1M157.66 287.9V296.1M160.83 287.9V296.1M163.52 287.9V296.1M165.85 287.9V296.1M167.9 287.9V296.1M169.74 287.9V296.1M181.82 287.9V296.1M188.88 287.9V296.1M193.9 287.9V296.1M197.79 287.9V296.1M200.96 287.9V296.1M203.65 287.9V296.1M205.98 287.9V296.1M208.03 287.9V296.1M209.87 287.9V296.1M221.95 287.9V296.1M229.01 287.9V296.1M234.03 287.9V296.1M237.92 287.9V296.1M241.09 287.9V296.1M243.78 287.9V296.1M246.11 287.9V296.1M248.16 287.9V296.1M250 287.9V296.1M262.08 287.9V296.1M269.14 287.9V296.1M274.16 287.9V296.1M278.04 287.9V296.1M281.22 287.9V296.1M283.91 287.9V296.1M286.24 287.9V296.1M288.29 287.9V296.1M290.12 287.9V296.1" stroke="#2c2cff" stroke-width="1.55" fill="none"/>
<g class="g" stroke="#e4405a" stroke-width="1.9" fill="none"><path d="M52.25 110H122.75" stroke-dasharray="8.5 6.3"/><path d="M52.25 97.6V105.7M52.25 112.4V120.9"/><path d="M122.75 97.6V105.7M122.75 112.4V120.9"/><path d="M122.75 106.6H173.35" stroke-dasharray="8.5 6.3"/><path d="M122.75 94.2V102.3M122.75 109V117.5"/><path d="M173.35 94.2V102.3M173.35 109V117.5"/><path d="M178.95 164H204.05" stroke-dasharray="8.5 6.3"/><path d="M178.95 151.6V159.7M178.95 166.4V174.9"/><path d="M204.05 151.6V159.7M204.05 166.4V174.9"/><path d="M205.45 218.9H251.25" stroke-dasharray="8.5 6.3"/><path d="M205.45 206.5V214.6M205.45 221.3V229.8"/><path d="M251.25 206.5V214.6M251.25 221.3V229.8"/></g>
<path class="g" d="M459.9 288.4L459.9 286.21L461.32 286.21L461.32 286.04L462.74 286.04L462.74 285.87L464.15 285.87L464.15 285.7L465.57 285.7L465.57 285.24L466.99 285.24L466.99 284.6L468.41 284.6L468.41 284.46L469.83 284.46L469.83 284.25L471.24 284.25L471.24 284.03L472.66 284.03L472.66 283.81L474.08 283.81L474.08 283.45L475.5 283.45L475.5 280.8L476.92 280.8L476.92 280.19L478.33 280.19L478.33 279.7L479.75 279.7L479.75 281.56L481.17 281.56L481.17 275.9L482.59 275.9L482.59 276.1L484.01 276.1L484.01 276.07L485.42 276.07L485.42 271.5L486.84 271.5L486.84 269.3L488.26 269.3L488.26 269.83L489.68 269.83L489.68 269.57L491.1 269.57L491.1 265.5L492.51 265.5L492.51 267.9L493.93 267.9L493.93 261.04L495.35 261.04L495.35 260.46L496.77 260.46L496.77 255.6L498.19 255.6L498.19 254.26L499.6 254.26L499.6 245.2L501.02 245.2L501.02 243.02L502.44 243.02L502.44 236.4L503.86 236.4L503.86 233.69L505.28 233.69L505.28 218.9L506.69 218.9L506.69 218.68L508.11 218.68L508.11 193.6L509.53 193.6L509.53 193.13L510.95 193.13L510.95 178.8L512.37 178.8L512.37 178.8L513.78 178.8L513.78 186L515.2 186L515.2 187.1L516.62 187.1L516.62 187.1L518.04 187.1L518.04 202.82L519.46 202.82L519.46 202.4L520.87 202.4L520.87 219.86L522.29 219.86L522.29 232.36L523.71 232.36L523.71 237.1L525.13 237.1L525.13 237.1L526.55 237.1L526.55 247.24L527.96 247.24L527.96 249.6L529.38 249.6L529.38 249.6L530.8 249.6L530.8 257.02L532.22 257.02L532.22 261.6L533.64 261.6L533.64 264.33L535.05 264.33L535.05 264.7L536.47 264.7L536.47 267.3L537.89 267.3L537.89 272.6L539.31 272.6L539.31 273.2L540.73 273.2L540.73 273.9L542.14 273.9L542.14 277.55L543.56 277.55L543.56 275.8L544.98 275.8L544.98 275.05L546.4 275.05L546.4 274.5L547.82 274.5L547.82 275.2L549.23 275.2L549.23 279.1L550.65 279.1L550.65 280.11L552.07 280.11L552.07 280.66L553.49 280.66L553.49 281.05L554.91 281.05L554.91 281.43L556.32 281.43L556.32 281.8L557.74 281.8L557.74 282.5L559.16 282.5L559.16 283.07L560.58 283.07L560.58 282.82L562 282.82L562 282.56L563.41 282.56L563.41 282.4L564.83 282.4L564.83 284.4L566.25 284.4L566.25 284.4L567.67 284.4L567.67 284.4L569.09 284.4L569.09 284.4L570.5 284.4L570.5 284.4L571.92 284.4L571.92 282.53L573.34 282.53L573.34 280.83L574.76 280.83L574.76 279.8L576.18 279.8L576.18 275.2L577.59 275.2L577.59 273.71L579.01 273.71L579.01 271.27L580.43 271.27L580.43 268L581.85 268L581.85 265.56L583.27 265.56L583.27 260.7L584.68 260.7L584.68 260.18L586.1 260.18L586.1 259.4L587.52 259.4L587.52 267.55L588.94 267.55L588.94 269.9L590.36 269.9L590.36 273.63L591.77 273.63L591.77 276.85L593.19 276.85L593.19 278.5L594.61 278.5L594.61 281.1L596.03 281.1L596.03 285L597.45 285L597.45 285.59L598.86 285.59L598.86 286.1L600.28 286.1L600.28 286.4L601.7 286.4L601.7 288.4Z" fill="#000"/>
<path class="g" d="M421.35 39.5H670.15V287.9H421.35Z" fill="none" stroke="#2c2cff" stroke-width="2"/>
<path class="g" d="M413.15 287.8H421.35M413.15 226.3H421.35M413.15 163H421.35M413.15 101.1H421.35M413.15 39.5H421.35M421.35 287.9V296.1M670.15 287.9V296.1" stroke="#2c2cff" stroke-width="1.9" fill="none"/>
<path class="g" d="M433.43 287.9V296.1M440.5 287.9V296.1M445.51 287.9V296.1M449.4 287.9V296.1M452.58 287.9V296.1M455.26 287.9V296.1M457.59 287.9V296.1M459.64 287.9V296.1M461.48 287.9V296.1M473.56 287.9V296.1M480.63 287.9V296.1M485.64 287.9V296.1M489.53 287.9V296.1M492.71 287.9V296.1M495.39 287.9V296.1M497.72 287.9V296.1M499.77 287.9V296.1M501.61 287.9V296.1M513.69 287.9V296.1M520.75 287.9V296.1M525.77 287.9V296.1M529.66 287.9V296.1M532.83 287.9V296.1M535.52 287.9V296.1M537.85 287.9V296.1M539.9 287.9V296.1M541.74 287.9V296.1M553.82 287.9V296.1M560.88 287.9V296.1M565.9 287.9V296.1M569.79 287.9V296.1M572.96 287.9V296.1M575.65 287.9V296.1M577.98 287.9V296.1M580.03 287.9V296.1M581.87 287.9V296.1M593.95 287.9V296.1M601.01 287.9V296.1M606.03 287.9V296.1M609.92 287.9V296.1M613.09 287.9V296.1M615.78 287.9V296.1M618.11 287.9V296.1M620.16 287.9V296.1M622 287.9V296.1M634.08 287.9V296.1M641.14 287.9V296.1M646.16 287.9V296.1M650.04 287.9V296.1M653.22 287.9V296.1M655.91 287.9V296.1M658.24 287.9V296.1M660.29 287.9V296.1M662.12 287.9V296.1" stroke="#2c2cff" stroke-width="1.55" fill="none"/>
<g class="g" stroke="#e4405a" stroke-width="1.9" fill="none"><path d="M424.25 110H494.75" stroke-dasharray="8.5 6.3"/><path d="M424.25 97.6V105.7M424.25 112.4V120.9"/><path d="M494.75 97.6V105.7M494.75 112.4V120.9"/><path d="M494.75 106.6H545.35" stroke-dasharray="8.5 6.3"/><path d="M494.75 94.2V102.3M494.75 109V117.5"/><path d="M545.35 94.2V102.3M545.35 109V117.5"/><path d="M550.95 164H576.05" stroke-dasharray="8.5 6.3"/><path d="M550.95 151.6V159.7M550.95 166.4V174.9"/><path d="M576.05 151.6V159.7M576.05 166.4V174.9"/><path d="M577.45 218.9H623.25" stroke-dasharray="8.5 6.3"/><path d="M577.45 206.5V214.6M577.45 221.3V229.8"/><path d="M623.25 206.5V214.6M623.25 221.3V229.8"/></g>
<path class="g" d="M90.7 649.4L90.7 647.33L92.12 647.33L92.12 647.19L93.54 647.19L93.54 647.05L94.96 647.05L94.96 646.91L96.38 646.91L96.38 646.77L97.8 646.77L97.8 646.7L99.22 646.7L99.22 646.7L100.64 646.7L100.64 646.38L102.06 646.38L102.06 645.67L103.47 645.67L103.47 644.97L104.89 644.97L104.89 644.27L106.31 644.27L106.31 643.58L107.73 643.58L107.73 642.7L109.15 642.7L109.15 641.58L110.57 641.58L110.57 640.51L111.99 640.51L111.99 639.48L113.41 639.48L113.41 638.28L114.83 638.28L114.83 636.8L116.25 636.8L116.25 633.2L117.67 633.2L117.67 630.51L119.09 630.51L119.09 628.1L120.51 628.1L120.51 626.1L121.93 626.1L121.93 621.52L123.35 621.52L123.35 617.79L124.77 617.79L124.77 615.39L126.19 615.39L126.19 608.52L127.6 608.52L127.6 600.86L129.02 600.86L129.02 600.31L130.44 600.31L130.44 599.7L131.86 599.7L131.86 590.18L133.28 590.18L133.28 578.59L134.7 578.59L134.7 567.49L136.12 567.49L136.12 552.52L137.54 552.52L137.54 536.26L138.96 536.26L138.96 525.84L140.38 525.84L140.38 514.97L141.8 514.97L141.8 513.21L143.22 513.21L143.22 512.1L144.64 512.1L144.64 537.83L146.06 537.83L146.06 544.2L147.48 544.2L147.48 559.8L148.9 559.8L148.9 571.47L150.32 571.47L150.32 576.98L151.73 576.98L151.73 596.18L153.15 596.18L153.15 600.2L154.57 600.2L154.57 609L155.99 609L155.99 612.21L157.41 612.21L157.41 617.4L158.83 617.4L158.83 622.15L160.25 622.15L160.25 624.92L161.67 624.92L161.67 627.43L163.09 627.43L163.09 628.7L164.51 628.7L164.51 632.94L165.93 632.94L165.93 633.53L167.35 633.53L167.35 633.8L168.77 633.8L168.77 636.41L170.19 636.41L170.19 637.52L171.61 637.52L171.61 638.2L173.03 638.2L173.03 639.59L174.45 639.59L174.45 640.4L175.87 640.4L175.87 643.23L177.28 643.23L177.28 642.89L178.7 642.89L178.7 642.56L180.12 642.56L180.12 642.3L181.54 642.3L181.54 642.05L182.96 642.05L182.96 641.8L184.38 641.8L184.38 642.31L185.8 642.31L185.8 642.79L187.22 642.79L187.22 643.28L188.64 643.28L188.64 643.14L190.06 643.14L190.06 642.97L191.48 642.97L191.48 642.79L192.9 642.79L192.9 642.6L194.32 642.6L194.32 643.49L195.74 643.49L195.74 644.52L197.16 644.52L197.16 642.97L198.58 642.97L198.58 640.4L200 640.4L200 641.47L201.41 641.47L201.41 642.84L202.83 642.84L202.83 642.58L204.25 642.58L204.25 641.1L205.67 641.1L205.67 639.97L207.09 639.97L207.09 637.4L208.51 637.4L208.51 635.5L209.93 635.5L209.93 632.23L211.35 632.23L211.35 629.91L212.77 629.91L212.77 625.16L214.19 625.16L214.19 621.18L215.61 621.18L215.61 620.7L217.03 620.7L217.03 624.54L218.45 624.54L218.45 630.9L219.87 630.9L219.87 634.85L221.29 634.85L221.29 638.17L222.71 638.17L222.71 640.02L224.13 640.02L224.13 641.1L225.54 641.1L225.54 644L226.96 644L226.96 645.35L228.38 645.35L228.38 646.2L229.8 646.2L229.8 647.67L231.22 647.67L231.22 647.44L232.64 647.44L232.64 647.21L234.06 647.21L234.06 647L235.48 647L235.48 647.47L236.9 647.47L236.9 649.4Z" fill="#000"/>
<path class="g" d="M49.35 400.5H298.15V648.9H49.35Z" fill="none" stroke="#2c2cff" stroke-width="2"/>
<path class="g" d="M41.15 648.8H49.35M41.15 587.3H49.35M41.15 524H49.35M41.15 462.1H49.35M41.15 400.5H49.35M49.35 648.9V657.1M298.15 648.9V657.1" stroke="#2c2cff" stroke-width="1.9" fill="none"/>
<path class="g" d="M61.43 648.9V657.1M68.5 648.9V657.1M73.51 648.9V657.1M77.4 648.9V657.1M80.58 648.9V657.1M83.26 648.9V657.1M85.59 648.9V657.1M87.64 648.9V657.1M89.48 648.9V657.1M101.56 648.9V657.1M108.63 648.9V657.1M113.64 648.9V657.1M117.53 648.9V657.1M120.71 648.9V657.1M123.39 648.9V657.1M125.72 648.9V657.1M127.77 648.9V657.1M129.61 648.9V657.1M141.69 648.9V657.1M148.75 648.9V657.1M153.77 648.9V657.1M157.66 648.9V657.1M160.83 648.9V657.1M163.52 648.9V657.1M165.85 648.9V657.1M167.9 648.9V657.1M169.74 648.9V657.1M181.82 648.9V657.1M188.88 648.9V657.1M193.9 648.9V657.1M197.79 648.9V657.1M200.96 648.9V657.1M203.65 648.9V657.1M205.98 648.9V657.1M208.03 648.9V657.1M209.87 648.9V657.1M221.95 648.9V657.1M229.01 648.9V657.1M234.03 648.9V657.1M237.92 648.9V657.1M241.09 648.9V657.1M243.78 648.9V657.1M246.11 648.9V657.1M248.16 648.9V657.1M250 648.9V657.1M262.08 648.9V657.1M269.14 648.9V657.1M274.16 648.9V657.1M278.04 648.9V657.1M281.22 648.9V657.1M283.91 648.9V657.1M286.24 648.9V657.1M288.29 648.9V657.1M290.12 648.9V657.1" stroke="#2c2cff" stroke-width="1.55" fill="none"/>
<g class="g" stroke="#e4405a" stroke-width="1.9" fill="none"><path d="M52.25 471H122.75" stroke-dasharray="8.5 6.3"/><path d="M52.25 458.6V466.7M52.25 473.4V481.9"/><path d="M122.75 458.6V466.7M122.75 473.4V481.9"/><path d="M122.75 467.6H173.35" stroke-dasharray="8.5 6.3"/><path d="M122.75 455.2V463.3M122.75 470V478.5"/><path d="M173.35 455.2V463.3M173.35 470V478.5"/><path d="M178.95 525H204.05" stroke-dasharray="8.5 6.3"/><path d="M178.95 512.6V520.7M178.95 527.4V535.9"/><path d="M204.05 512.6V520.7M204.05 527.4V535.9"/><path d="M205.45 579.9H251.25" stroke-dasharray="8.5 6.3"/><path d="M205.45 567.5V575.6M205.45 582.3V590.8"/><path d="M251.25 567.5V575.6M251.25 582.3V590.8"/></g>
<path class="g" d="M439.8 649.4L439.8 647.3L441.23 647.3L441.23 647.3L442.65 647.3L442.65 648.5L444.08 648.5L444.08 648.5L445.51 648.5L445.51 648.5L446.93 648.5L446.93 648.5L448.36 648.5L448.36 648.5L449.79 648.5L449.79 646.9L451.21 646.9L451.21 646.9L452.64 646.9L452.64 646.9L454.07 646.9L454.07 646.9L455.49 646.9L455.49 646.85L456.92 646.85L456.92 646.5L458.35 646.5L458.35 645.6L459.77 645.6L459.77 645.46L461.2 645.46L461.2 645.26L462.63 645.26L462.63 644.94L464.05 644.94L464.05 644.25L465.48 644.25L465.48 643.8L466.91 643.8L466.91 644.46L468.33 644.46L468.33 644.31L469.76 644.31L469.76 643.57L471.19 643.57L471.19 642.89L472.61 642.89L472.61 641.44L474.04 641.44L474.04 638.1L475.46 638.1L475.46 637.36L476.89 637.36L476.89 635.9L478.32 635.9L478.32 635.57L479.74 635.57L479.74 635L481.17 635L481.17 633.74L482.6 633.74L482.6 630.98L484.02 630.98L484.02 628.26L485.45 628.26L485.45 626.78L486.88 626.78L486.88 625.37L488.3 625.37L488.3 624.93L489.73 624.93L489.73 624.48L491.16 624.48L491.16 623.5L492.58 623.5L492.58 626.21L494.01 626.21L494.01 630.08L495.44 630.08L495.44 627.45L496.86 627.45L496.86 623.92L498.29 623.92L498.29 622.5L499.72 622.5L499.72 619.48L501.14 619.48L501.14 613.88L502.57 613.88L502.57 610.98L504 610.98L504 608.25L505.42 608.25L505.42 607.4L506.85 607.4L506.85 604.71L508.28 604.71L508.28 599.37L509.7 599.37L509.7 589.99L511.13 589.99L511.13 573.41L512.56 573.41L512.56 569.68L513.98 569.68L513.98 565.69L515.41 565.69L515.41 561.36L516.84 561.36L516.84 556.4L518.26 556.4L518.26 551.4L519.69 551.4L519.69 553L521.12 553L521.12 555.56L522.54 555.56L522.54 557.1L523.97 557.1L523.97 568.5L525.4 568.5L525.4 569.55L526.82 569.55L526.82 570.4L528.25 570.4L528.25 572.7L529.68 572.7L529.68 580.25L531.1 580.25L531.1 585.5L532.53 585.5L532.53 588.4L533.96 588.4L533.96 591.03L535.38 591.03L535.38 593.1L536.81 593.1L536.81 597.97L538.24 597.97L538.24 601.81L539.66 601.81L539.66 605.55L541.09 605.55L541.09 608.29L542.51 608.29L542.51 610.73L543.94 610.73L543.94 612.05L545.37 612.05L545.37 613.1L546.79 613.1L546.79 614L548.22 614L548.22 618.9L549.65 618.9L549.65 621.44L551.07 621.44L551.07 623.58L552.5 623.58L552.5 625.4L553.93 625.4L553.93 626.22L555.35 626.22L555.35 626.93L556.78 626.93L556.78 627.3L558.21 627.3L558.21 633L559.63 633L559.63 633.82L561.06 633.82L561.06 634.54L562.49 634.54L562.49 634.9L563.91 634.9L563.91 636.47L565.34 636.47L565.34 637.52L566.77 637.52L566.77 638.92L568.19 638.92L568.19 640.4L569.62 640.4L569.62 642.6L571.05 642.6L571.05 644.91L572.47 644.91L572.47 646.49L573.9 646.49L573.9 649.4Z" fill="#000"/>
<path class="g" d="M421.35 400.5H670.15V648.9H421.35Z" fill="none" stroke="#2c2cff" stroke-width="2"/>
<path class="g" d="M413.15 648.8H421.35M413.15 587.3H421.35M413.15 524H421.35M413.15 462.1H421.35M413.15 400.5H421.35M421.35 648.9V657.1M670.15 648.9V657.1" stroke="#2c2cff" stroke-width="1.9" fill="none"/>
<path class="g" d="M433.43 648.9V657.1M440.5 648.9V657.1M445.51 648.9V657.1M449.4 648.9V657.1M452.58 648.9V657.1M455.26 648.9V657.1M457.59 648.9V657.1M459.64 648.9V657.1M461.48 648.9V657.1M473.56 648.9V657.1M480.63 648.9V657.1M485.64 648.9V657.1M489.53 648.9V657.1M492.71 648.9V657.1M495.39 648.9V657.1M497.72 648.9V657.1M499.77 648.9V657.1M501.61 648.9V657.1M513.69 648.9V657.1M520.75 648.9V657.1M525.77 648.9V657.1M529.66 648.9V657.1M532.83 648.9V657.1M535.52 648.9V657.1M537.85 648.9V657.1M539.9 648.9V657.1M541.74 648.9V657.1M553.82 648.9V657.1M560.88 648.9V657.1M565.9 648.9V657.1M569.79 648.9V657.1M572.96 648.9V657.1M575.65 648.9V657.1M577.98 648.9V657.1M580.03 648.9V657.1M581.87 648.9V657.1M593.95 648.9V657.1M601.01 648.9V657.1M606.03 648.9V657.1M609.92 648.9V657.1M613.09 648.9V657.1M615.78 648.9V657.1M618.11 648.9V657.1M620.16 648.9V657.1M622 648.9V657.1M634.08 648.9V657.1M641.14 648.9V657.1M646.16 648.9V657.1M650.04 648.9V657.1M653.22 648.9V657.1M655.91 648.9V657.1M658.24 648.9V657.1M660.29 648.9V657.1M662.12 648.9V657.1" stroke="#2c2cff" stroke-width="1.55" fill="none"/>
<g class="g" stroke="#e4405a" stroke-width="1.9" fill="none"><path d="M424.25 471H494.75" stroke-dasharray="8.5 6.3"/><path d="M424.25 458.6V466.7M424.25 473.4V481.9"/><path d="M494.75 458.6V466.7M494.75 473.4V481.9"/><path d="M494.75 467.6H545.35" stroke-dasharray="8.5 6.3"/><path d="M494.75 455.2V463.3M494.75 470V478.5"/><path d="M545.35 455.2V463.3M545.35 470V478.5"/><path d="M550.95 525H576.05" stroke-dasharray="8.5 6.3"/><path d="M550.95 512.6V520.7M550.95 527.4V535.9"/><path d="M576.05 512.6V520.7M576.05 527.4V535.9"/><path d="M577.45 579.9H623.25" stroke-dasharray="8.5 6.3"/><path d="M577.45 567.5V575.6M577.45 582.3V590.8"/><path d="M623.25 567.5V575.6M623.25 582.3V590.8"/></g>
<path class="g" d="M64.8 1025.1L64.8 1023.2L66.22 1023.2L66.22 1023.2L67.64 1023.2L67.64 1024.5L69.06 1024.5L69.06 1024.5L70.48 1024.5L70.48 1024.5L71.9 1024.5L71.9 1024.5L73.33 1024.5L73.32 1024.5L74.75 1024.5L74.75 1023.2L76.17 1023.2L76.17 1023.2L77.59 1023.2L77.59 1023.2L79.01 1023.2L79.01 1023.2L80.43 1023.2L80.43 1023.17L81.85 1023.17L81.85 1022.8L83.27 1022.8L83.27 1022.39L84.69 1022.39L84.69 1021.9L86.11 1021.9L86.11 1021.74L87.53 1021.74L87.53 1021.5L88.95 1021.5L88.95 1020.97L90.38 1020.97L90.38 1019.7L91.8 1019.7L91.8 1020.29L93.22 1020.29L93.22 1020.77L94.64 1020.77L94.64 1019.53L96.06 1019.53L96.06 1018.85L97.48 1018.85L97.48 1017.57L98.9 1017.57L98.9 1014L100.32 1014L100.32 1013.52L101.74 1013.52L101.74 1012.3L103.16 1012.3L103.16 1011.61L104.58 1011.61L104.58 1010.1L106 1010.1L106 1009.2L107.42 1009.2L107.42 1006.61L108.85 1006.61L108.85 1003.44L110.27 1003.44L110.27 1002.02L111.69 1002.02L111.69 1000.4L113.11 1000.4L113.11 999.98L114.53 999.98L114.53 999.3L115.95 999.3L115.95 999.73L117.37 999.73L117.37 1000.4L118.79 1000.4L118.79 1005.99L120.21 1005.99L120.21 1001.5L121.63 1001.5L121.63 1000.46L123.05 1000.46L123.05 999.04L124.47 999.04L124.47 996.44L125.9 996.44L125.9 991.6L127.32 991.6L127.32 987.97L128.74 987.97L128.74 984.35L130.16 984.35L130.16 981.99L131.58 981.99L131.58 979.6L133 979.6L133 967.6L134.42 967.6L134.42 961.75L135.84 961.75L135.84 950L137.26 950L137.26 945.26L138.68 945.26L138.68 941.21L140.1 941.21L140.1 938.37L141.52 938.37L141.52 935.19L142.95 935.19L142.95 925.9L144.37 925.9L144.37 926.29L145.79 926.29L145.79 927L147.21 927L147.21 929.84L148.63 929.84L148.63 931.4L150.05 931.4L150.05 946.31L151.47 946.31L151.47 947.22L152.89 947.22L152.89 947.8L154.31 947.8L154.31 955.86L155.73 955.86L155.73 959.92L157.15 959.92L157.15 963.71L158.57 963.71L158.57 966.95L160 966.95L160 969.75L161.42 969.75L161.42 971.9L162.84 971.9L162.84 976.56L164.26 976.56L164.26 980.35L165.68 980.35L165.68 982.42L167.1 982.42L167.1 984.31L168.52 984.31L168.52 985.93L169.94 985.93L169.94 987.35L171.36 987.35L171.36 988.4L172.78 988.4L172.78 992.53L174.2 992.53L174.2 995.8L175.62 995.8L175.62 998.05L177.05 998.05L177.05 1000.23L178.47 1000.23L178.47 1002.41L179.89 1002.41L179.89 1003.57L181.31 1003.57L181.31 1004.64L182.73 1004.64L182.73 1005.7L184.15 1005.7L184.15 1007.41L185.57 1007.41L185.57 1009.26L186.99 1009.26L186.99 1010.2L188.41 1010.2L188.41 1011.79L189.83 1011.79L189.83 1012.86L191.25 1012.86L191.25 1013.5L192.67 1013.5L192.67 1015.49L194.1 1015.49L194.1 1016.91L195.52 1016.91L195.52 1017.9L196.94 1017.9L196.94 1019.81L198.36 1019.81L198.36 1021.2L199.78 1021.2L199.78 1022.69L201.2 1022.69L201.2 1025.1Z" fill="#000"/>
<path class="g" d="M46.5 776.2H295.3V1024.6H46.5Z" fill="none" stroke="#2c2cff" stroke-width="2"/>
<path class="g" d="M38.3 1024.5H46.5M38.3 963H46.5M38.3 899.7H46.5M38.3 837.8H46.5M38.3 776.2H46.5M46.5 1024.6V1032.8M295.3 1024.6V1032.8" stroke="#2c2cff" stroke-width="1.9" fill="none"/>
<path class="g" d="M58.58 1024.6V1032.8M65.65 1024.6V1032.8M70.66 1024.6V1032.8M74.55 1024.6V1032.8M77.73 1024.6V1032.8M80.41 1024.6V1032.8M82.74 1024.6V1032.8M84.79 1024.6V1032.8M86.63 1024.6V1032.8M98.71 1024.6V1032.8M105.78 1024.6V1032.8M110.79 1024.6V1032.8M114.68 1024.6V1032.8M117.86 1024.6V1032.8M120.54 1024.6V1032.8M122.87 1024.6V1032.8M124.92 1024.6V1032.8M126.76 1024.6V1032.8M138.84 1024.6V1032.8M145.9 1024.6V1032.8M150.92 1024.6V1032.8M154.81 1024.6V1032.8M157.98 1024.6V1032.8M160.67 1024.6V1032.8M163 1024.6V1032.8M165.05 1024.6V1032.8M166.89 1024.6V1032.8M178.97 1024.6V1032.8M186.03 1024.6V1032.8M191.05 1024.6V1032.8M194.94 1024.6V1032.8M198.11 1024.6V1032.8M200.8 1024.6V1032.8M203.13 1024.6V1032.8M205.18 1024.6V1032.8M207.02 1024.6V1032.8M219.1 1024.6V1032.8M226.16 1024.6V1032.8M231.18 1024.6V1032.8M235.07 1024.6V1032.8M238.24 1024.6V1032.8M240.93 1024.6V1032.8M243.26 1024.6V1032.8M245.31 1024.6V1032.8M247.15 1024.6V1032.8M259.23 1024.6V1032.8M266.29 1024.6V1032.8M271.31 1024.6V1032.8M275.19 1024.6V1032.8M278.37 1024.6V1032.8M281.06 1024.6V1032.8M283.39 1024.6V1032.8M285.44 1024.6V1032.8M287.27 1024.6V1032.8" stroke="#2c2cff" stroke-width="1.55" fill="none"/>
<g class="g" stroke="#e4405a" stroke-width="1.9" fill="none"><path d="M49.4 846.7H119.9" stroke-dasharray="8.5 6.3"/><path d="M49.4 834.3V842.4M49.4 849.1V857.6"/><path d="M119.9 834.3V842.4M119.9 849.1V857.6"/><path d="M119.9 843.3H170.5" stroke-dasharray="8.5 6.3"/><path d="M119.9 830.9V839M119.9 845.7V854.2"/><path d="M170.5 830.9V839M170.5 845.7V854.2"/><path d="M176.1 900.7H201.2" stroke-dasharray="8.5 6.3"/><path d="M176.1 888.3V896.4M176.1 903.1V911.6"/><path d="M201.2 888.3V896.4M201.2 903.1V911.6"/><path d="M202.6 955.6H248.4" stroke-dasharray="8.5 6.3"/><path d="M202.6 943.2V951.3M202.6 958V966.5"/><path d="M248.4 943.2V951.3M248.4 958V966.5"/></g>
<path class="g" d="M444.3 1025.1L444.3 1023L445.72 1023L445.72 1023L447.14 1023L447.14 1024.5L448.56 1024.5L448.56 1024.5L449.98 1024.5L449.98 1021.3L451.4 1021.3L451.4 1021.92L452.81 1021.92L452.81 1022.08L454.23 1022.08L454.23 1020.66L455.65 1020.66L455.65 1019.24L457.07 1019.24L457.07 1018.2L458.49 1018.2L458.49 1020.8L459.91 1020.8L459.91 1019.85L461.33 1019.85L461.33 1018.91L462.75 1018.91L462.75 1018.2L464.17 1018.2L464.17 1019.7L465.59 1019.7L465.59 1019.45L467.01 1019.45L467.01 1016.9L468.42 1016.9L468.42 1016.28L469.84 1016.28L469.84 1015.54L471.26 1015.54L471.26 1013.91L472.68 1013.91L472.68 1009.9L474.1 1009.9L474.1 1009.09L475.52 1009.09L475.52 1003.3L476.94 1003.3L476.94 1002.95L478.36 1002.95L478.36 1002.29L479.78 1002.29L479.78 1000.48L481.2 1000.48L481.2 998.7L482.62 998.7L482.62 997.34L484.03 997.34L484.03 992.18L485.45 992.18L485.45 987L486.87 987L486.87 988.36L488.29 988.36L488.29 990.08L489.71 990.08L489.71 991.4L491.13 991.4L491.13 995.53L492.55 995.53L492.55 989.09L493.97 989.09L493.97 986L495.39 986L495.39 984.96L496.81 984.96L496.81 983.77L498.23 983.77L498.23 979.6L499.64 979.6L499.64 976.98L501.06 976.98L501.06 974.24L502.48 974.24L502.48 973.89L503.9 973.89L503.9 944L505.32 944L505.32 947.04L506.74 947.04L506.74 938.1L508.16 938.1L508.16 920.3L509.58 920.3L509.58 912.9L511 912.9L511 889.3L512.42 889.3L512.42 881.1L513.84 881.1L513.84 888.71L515.26 888.71L515.26 897.1L516.67 897.1L516.67 901.95L518.09 901.95L518.09 904.1L519.51 904.1L519.51 920.3L520.93 920.3L520.93 931.5L522.35 931.5L522.35 933.46L523.77 933.46L523.77 944.16L525.19 944.16L525.19 951.63L526.61 951.63L526.61 967.7L528.03 967.7L528.03 976.6L529.45 976.6L529.45 981.04L530.87 981.04L530.87 987.69L532.28 987.69L532.28 993.02L533.7 993.02L533.7 995.86L535.12 995.86L535.12 991.4L536.54 991.4L536.54 998.54L537.96 998.54L537.96 1002.91L539.38 1002.91L539.38 1005.1L540.8 1005.1L540.8 1010.3L542.22 1010.3L542.22 1011.93L543.64 1011.93L543.64 1009.4L545.06 1009.4L545.06 1010.37L546.48 1010.37L546.48 1011.2L547.89 1011.2L547.89 1016.89L549.31 1016.89L549.31 1017.35L550.73 1017.35L550.73 1017.8L552.15 1017.8L552.15 1018.14L553.57 1018.14L553.57 1015.6L554.99 1015.6L554.99 1017.2L556.41 1017.2L556.41 1018.37L557.83 1018.37L557.83 1018.49L559.25 1018.49L559.25 1016.9L560.67 1016.9L560.67 1018.99L562.09 1018.99L562.09 1020.26L563.5 1020.26L563.5 1020L564.92 1020L564.92 1020.5L566.34 1020.5L566.34 1020.91L567.76 1020.91L567.76 1021.11L569.18 1021.11L569.18 1021.3L570.6 1021.3L570.6 1025.1Z" fill="#000"/>
<path class="g" d="M418.2 776.2H667V1024.6H418.2Z" fill="none" stroke="#2c2cff" stroke-width="2"/>
<path class="g" d="M410 1024.5H418.2M410 963H418.2M410 899.7H418.2M410 837.8H418.2M410 776.2H418.2M418.2 1024.6V1032.8M667 1024.6V1032.8" stroke="#2c2cff" stroke-width="1.9" fill="none"/>
<path class="g" d="M430.28 1024.6V1032.8M437.35 1024.6V1032.8M442.36 1024.6V1032.8M446.25 1024.6V1032.8M449.43 1024.6V1032.8M452.11 1024.6V1032.8M454.44 1024.6V1032.8M456.49 1024.6V1032.8M458.33 1024.6V1032.8M470.41 1024.6V1032.8M477.48 1024.6V1032.8M482.49 1024.6V1032.8M486.38 1024.6V1032.8M489.56 1024.6V1032.8M492.24 1024.6V1032.8M494.57 1024.6V1032.8M496.62 1024.6V1032.8M498.46 1024.6V1032.8M510.54 1024.6V1032.8M517.6 1024.6V1032.8M522.62 1024.6V1032.8M526.51 1024.6V1032.8M529.68 1024.6V1032.8M532.37 1024.6V1032.8M534.7 1024.6V1032.8M536.75 1024.6V1032.8M538.59 1024.6V1032.8M550.67 1024.6V1032.8M557.73 1024.6V1032.8M562.75 1024.6V1032.8M566.64 1024.6V1032.8M569.81 1024.6V1032.8M572.5 1024.6V1032.8M574.83 1024.6V1032.8M576.88 1024.6V1032.8M578.72 1024.6V1032.8M590.8 1024.6V1032.8M597.86 1024.6V1032.8M602.88 1024.6V1032.8M606.77 1024.6V1032.8M609.94 1024.6V1032.8M612.63 1024.6V1032.8M614.96 1024.6V1032.8M617.01 1024.6V1032.8M618.85 1024.6V1032.8M630.93 1024.6V1032.8M637.99 1024.6V1032.8M643.01 1024.6V1032.8M646.89 1024.6V1032.8M650.07 1024.6V1032.8M652.76 1024.6V1032.8M655.09 1024.6V1032.8M657.14 1024.6V1032.8M658.97 1024.6V1032.8" stroke="#2c2cff" stroke-width="1.55" fill="none"/>
<g class="g" stroke="#e4405a" stroke-width="1.9" fill="none"><path d="M421.1 846.7H491.6" stroke-dasharray="8.5 6.3"/><path d="M421.1 834.3V842.4M421.1 849.1V857.6"/><path d="M491.6 834.3V842.4M491.6 849.1V857.6"/><path d="M491.6 843.3H542.2" stroke-dasharray="8.5 6.3"/><path d="M491.6 830.9V839M491.6 845.7V854.2"/><path d="M542.2 830.9V839M542.2 845.7V854.2"/><path d="M547.8 900.7H572.9" stroke-dasharray="8.5 6.3"/><path d="M547.8 888.3V896.4M547.8 903.1V911.6"/><path d="M572.9 888.3V896.4M572.9 903.1V911.6"/><path d="M574.3 955.6H620.1" stroke-dasharray="8.5 6.3"/><path d="M574.3 943.2V951.3M574.3 958V966.5"/><path d="M620.1 943.2V951.3M620.1 958V966.5"/></g>
</svg>
</body></html>
